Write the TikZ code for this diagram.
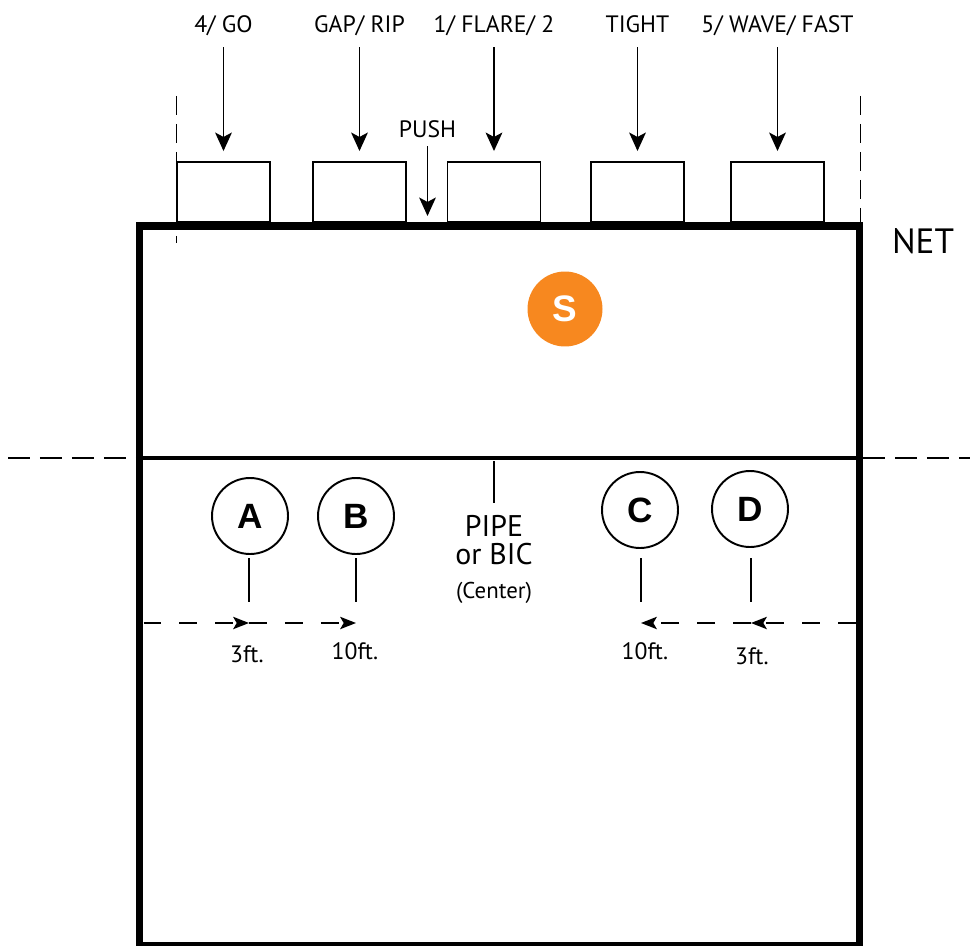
\documentclass[tikz,border=0pt]{standalone}
\usepackage{fontspec}
\setmainfont{PT Sans}
\newfontfamily\letterfont{Liberation Sans}
\usetikzlibrary{arrows.meta,positioning}
\definecolor{setorange}{RGB}{247,136,31}

\begin{document}
\begin{tikzpicture}[
    x=0.02cm, y=-0.02cm,
    court/.style={draw, line width=4.3pt},
    blocker/.style={rectangle, draw, line width=1.1pt, minimum width=1.86cm, minimum height=1.2cm, inner sep=0pt},
    call/.style={font=\fontsize{13.5}{14}\selectfont, inner sep=0pt, text depth=0pt, anchor=base},
    feet/.style={font=\fontsize{13.5}{14}\selectfont, inner sep=0pt},
    hitter/.style={circle, draw, line width=1.1pt, minimum size=1.52cm, inner sep=0pt, font=\letterfont\bfseries\fontsize{20}{20}\selectfont},
    setter/.style={circle, fill=setorange, text=white, minimum size=1.5cm, inner sep=0pt, font=\letterfont\bfseries\fontsize{21}{21}\selectfont},
    arrow/.style={-{Stealth[length=10.5pt, width=9.5pt, inset=2.5pt]}, line width=1.1pt},
    dimarrow/.style={-{Stealth[length=9pt, width=7pt, inset=2pt]}, line width=1.1pt, dash pattern=on 0.36cm off 0.36cm},
    tick/.style={line width=1.1pt},
    sideline/.style={line width=1.1pt, dash pattern=on 0.38cm off 0.18cm},
    tenline/.style={line width=1.1pt, dash pattern=on 0.44cm off 0.2cm}
]
\useasboundingbox (0,0) rectangle (970,946);

% Court
\draw[court] (139.5,226) rectangle (859.5,946);
\draw[line width=2pt] (139.5,458) -- (859.5,458);
\draw[tenline] (8,458) -- (136,458);
\draw[tenline] (863,458) -- (970,458);
\draw[sideline] (176.5,96) -- (176.5,243);
\draw[sideline] (860.5,96) -- (860.5,222);

% Nodes
\node[blocker] (bGo) at (223.5,192) {};
\node[blocker] (bGap) at (359.5,192) {};
\node[blocker] (bFlare) at (494,192) {};
\node[blocker] (bTight) at (637.5,192) {};
\node[blocker] (bWave) at (777.5,192) {};

\node[call] (lGo) at (223.5,33) {4/ GO};
\node[call] (lGap) at (359.5,33) {GAP/ RIP};
\node[call] (lFlare) at (494,33) {1/ FLARE/ 2};
\node[call] (lTight) at (637.5,33) {TIGHT};
\node[call] (lWave) at (777.5,33) {5/ WAVE/ FAST};
\node[call] (push) at (427.5,137) {PUSH};
\coordinate (pushTip) at (427.5,216);

\node[font=\fontsize{20}{20}\selectfont, inner sep=0pt, anchor=base] (net) at (923,253) {NET};
\node[setter] (setter) at (565,309) {S};

\node[hitter] (pA) at (250,516) {A};
\node[hitter] (pB) at (356,516) {B};
\node[hitter] (pC) at (640,510) {C};
\node[hitter] (pD) at (750,509) {D};

\node[font=\fontsize{17}{16}\selectfont, align=center, inner sep=0pt] (pipe) at (494,540) {PIPE\\or BIC};
\node[feet, font=\fontsize{13}{14}\selectfont, below=0.34cm of pipe] (center) {(Center)};

\coordinate (edgeL) at (143.5,623);
\coordinate (dA) at (249,623);
\coordinate (dB) at (356,623);
\coordinate (edgeR) at (855.5,623);
\coordinate (dD) at (751,623);
\coordinate (dC) at (641,623);

\node[feet] (fA) at (247,654) {3ft.};
\node[feet] (fB) at (355,651) {10ft.};
\node[feet] (fC) at (645,651) {10ft.};
\node[feet] (fD) at (752,656) {3ft.};

% Ticks
\draw[tick] (494,461) -- (494,503);
\draw[tick] (249,558) -- (249,602);
\draw[tick] (356,558) -- (356,602);
\draw[tick] (641,558) -- (641,602);
\draw[tick] (751,558) -- (751,602);

% Arrows
\draw[arrow, shorten <=8pt, shorten >=5.7pt] (lGo) -- (bGo);
\draw[arrow, shorten <=8pt, shorten >=5.7pt] (lGap) -- (bGap);
\draw[arrow, shorten <=8pt, shorten >=5.7pt] (lFlare) -- (bFlare);
\draw[arrow, shorten <=8pt, shorten >=5.7pt] (lTight) -- (bTight);
\draw[arrow, shorten <=8pt, shorten >=5.7pt] (lWave) -- (bWave);
\draw[arrow, shorten <=5pt] (push) -- (pushTip);
\draw[dimarrow] (edgeL) -- (dA);
\draw[dimarrow] (dA) -- (dB);
\draw[dimarrow] (edgeR) -- (dD);
\draw[dimarrow] (dD) -- (dC);

\end{tikzpicture}
\end{document}
